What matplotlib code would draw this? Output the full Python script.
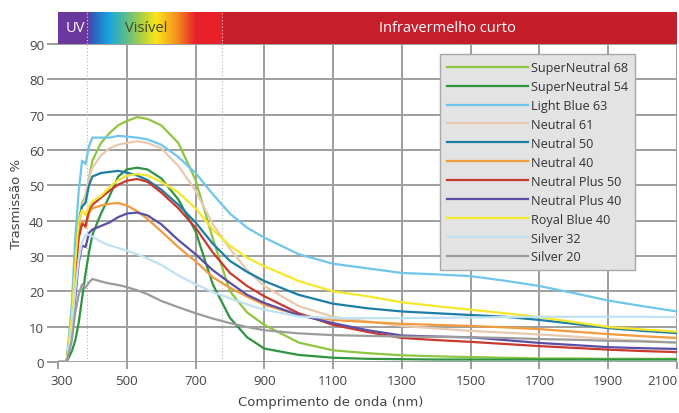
import numpy as np
import matplotlib.pyplot as plt
from matplotlib.colors import LinearSegmentedColormap
from matplotlib.transforms import ScaledTranslation

# comprimentos de onda (nm)
wl = [300, 325, 340, 350, 360, 370, 380, 390, 400,
      425, 450, 475, 500, 530, 560, 600, 650, 700,
      750, 800, 850, 900,
      1000, 1100, 1200, 1300, 1400, 1500, 1600, 1700, 1800, 1900, 2000, 2100]

sn68 = [0, 0, 10, 22, 38, 45, 47, 52, 57,
        62, 64.8, 67, 68.2, 69.3, 68.8, 67, 62, 51.5,
        35, 20, 14, 10.5,
        5.5, 3.3, 2.5, 1.9, 1.6, 1.4, 1.2, 1.0, 1.0, 0.9, 0.9, 0.9]
sn54 = [0, 0, 3, 6, 11, 18, 25, 31, 36,
        42, 47, 52.5, 54.5, 55, 54.5, 52, 46, 37,
        22, 12.5, 7, 3.8,
        2, 1.2, 0.9, 0.8, 0.7, 0.7, 0.7, 0.7, 0.7, 0.7, 0.7, 0.7]
lb63 = [0, 0, 16, 35, 48, 57, 56, 61, 63.5,
        63.5, 63.5, 64, 63.8, 63.5, 63, 61.5, 58, 53.5,
        47.5, 42, 38, 35.2,
        30.5, 27.8, 26.5, 25.2, 24.8, 24.3, 23, 21.5, 19.5, 17.4, 15.8, 14.3]
n61 = [0, 0, 10, 25, 38, 44, 47, 52, 55,
       58.5, 60.5, 61.5, 62, 62.5, 62, 60.5, 55.5, 48.5,
       39, 32, 26, 21.5,
       15.8, 12.8, 11.5, 10.2, 9.5, 8.8, 8.3, 7.8, 7.2, 6.5, 6.0, 5.5]
n50 = [0, 0, 12, 28, 40, 44, 45, 50, 52.5,
       53.5, 53.8, 54.1, 53.6, 52.8, 51.5, 48.8, 44.5, 39.5,
       33.5, 28.6, 25.5, 22.9,
       19, 16.5, 15.2, 14.3, 13.8, 13.3, 12.8, 11.9, 10.8, 9.6, 8.8, 8.2]
n40 = [0, 0, 11, 25, 36, 40, 38, 42, 43.5,
       44.3, 44.8, 45, 44.3, 42.7, 40.5, 37, 32.5, 28.5,
       24, 21, 18.5, 16.2,
       13.3, 11.9, 11.3, 10.8, 10.5, 10.2, 9.8, 9.3, 8.6, 7.9, 7.3, 6.8]
np50 = [0, 0, 11, 25, 35, 39, 38.5, 43, 44.5,
        46.5, 48.5, 50.2, 51.3, 51.8, 51, 48, 43.5, 38,
        31, 25.2, 21.5, 18.6,
        13.8, 10.5, 8.5, 6.8, 6.2, 5.7, 5.1, 4.5, 4.0, 3.5, 3.1, 2.8]
np40 = [0, 0, 8, 18, 28, 33, 32.5, 36.5, 37.5,
        38.5, 39.5, 41, 42, 42.3, 41.5, 39, 34.5, 30.5,
        26, 22.4, 19, 16.7,
        13.3, 11, 9, 7.5, 7.2, 7.0, 6.2, 5.4, 4.8, 4.2, 3.9, 3.7]
rb40 = [0, 0, 13, 28, 40, 43, 41.5, 44, 45.5,
        47, 49.5, 51.5, 52.7, 53.2, 52.8, 51, 48, 43.5,
        37.5, 32.9, 29.5, 27.1,
        22.9, 20, 18.6, 16.9, 15.8, 14.8, 13.8, 12.7, 11.3, 9.9, 9.2, 8.6]
s32 = [0, 0, 9, 20, 29, 34, 36, 36, 35.5,
       34, 33, 32.3, 31.5, 30.5, 29.3, 27.5, 24.5, 22,
       19.8, 18, 16.3, 14.8,
       12.9, 12.4, 12.4, 12.4, 12.5, 12.6, 12.7, 12.8, 12.8, 12.8, 12.8, 12.7]
s20 = [0, 0, 6, 14, 19, 22, 21, 22.5, 23.5,
       22.8, 22.2, 21.8, 21.2, 20.3, 19.2, 17.3, 15.5, 13.8,
       12.3, 11, 9.9, 9,
       8.1, 7.6, 7.4, 7.2, 7.1, 7.0, 6.8, 6.5, 6.3, 6.0, 5.8, 5.5]

nomes = ["SuperNeutral 68", "SuperNeutral 54", "Light Blue 63", "Neutral 61",
         "Neutral 50", "Neutral 40", "Neutral Plus 50", "Neutral Plus 40",
         "Royal Blue 40", "Silver 32", "Silver 20"]
series = [sn68, sn54, lb63, n61, n50, n40, np50, np40, rb40, s32, s20]
cores = ["#8dc63f", "#2f9440", "#6fc6ec", "#e8c9ae", "#1c7ea6", "#f39a3c",
         "#c8392e", "#5b4ea6", "#f6e72a", "#bfe1f3", "#9b9b9b"]

xticks = list(range(300, 2101, 200))
yticks = list(range(0, 91, 10))

grid_cor = "#9e9e9e"
texto_cor = "#444444"

fig = plt.figure(figsize=(6.79, 4.14), dpi=100)
ax = fig.add_axes([58 / 679, 1 - 363 / 414, 619 / 679, 318 / 414])
barra = fig.add_axes([58 / 679, 1 - 45 / 414, 619 / 679, 32 / 414])

# faixa do espectro
stops = [(300, "#6a389e"), (383, "#6a389e"), (398, "#2e5fbf"), (445, "#19a5df"),
         (495, "#5cbd8c"), (544, "#b6d23c"), (582, "#fae51b"), (640, "#f6951e"),
         (698, "#e8202a"), (777, "#e8202a"), (778, "#c81f2c"), (2100, "#c41e2b")]
pos = [(s[0] - 300) / 1800 for s in stops]
cmap = LinearSegmentedColormap.from_list("espectro", list(zip(pos, [s[1] for s in stops])))
grad = np.linspace(0, 1, 1200).reshape(1, -1)
barra.imshow(grad, aspect="auto", cmap=cmap, extent=[300, 2100, 0, 1])
barra.set_xlim(300, 2100)
barra.set_ylim(0, 1)
barra.set_xticks([])
barra.set_yticks([])
for s in barra.spines.values():
    s.set_visible(False)
for xv in [385, 778]:
    barra.axvline(xv, color="#dddddd", lw=0.8, ls=(0, (1, 2)))
barra.text(350, 0.5, "UV", color="white", fontsize=10.5, family="Open Sans",
           ha="center", va="center")
barra.text(556, 0.5, "Visível", color="#3d4a22", fontsize=10.5, family="Open Sans",
           ha="center", va="center")
barra.text(1431, 0.5, "Infravermelho curto", color="white", fontsize=10.5,
           family="Open Sans", ha="center", va="center")

# curvas
for nome, vals, cor in zip(nomes, series, cores):
    ax.plot(wl, vals, color=cor, lw=1.6, label=nome, zorder=3)

ax.set_xlim(300, 2100)
ax.set_ylim(0, 90)
ax.set_xticks(xticks)
ax.set_yticks(yticks)
ax.grid(True, color=grid_cor, lw=1.4)
ax.xaxis.get_gridlines()[0].set_visible(False)
ax.set_axisbelow(True)
for s in ax.spines.values():
    s.set_visible(False)
for xv in [385, 778]:
    ax.axvline(xv, color="#b0b0b0", lw=0.8, ls=(0, (1, 2)), zorder=1)

ax.tick_params(axis="y", length=8, width=1.4, color=grid_cor, labelcolor=texto_cor,
               labelsize=9.5, pad=2)
ax.tick_params(axis="x", length=5, width=1.4, color=grid_cor, labelcolor=texto_cor,
               labelsize=9.5, pad=4)
for lab in ax.get_xticklabels() + ax.get_yticklabels():
    lab.set_family("Open Sans")
xlabs = ax.get_xticklabels()
xlabs[0].set_transform(xlabs[0].get_transform()
                       + ScaledTranslation(4 / 100, 0, fig.dpi_scale_trans))
xlabs[-1].set_horizontalalignment("right")

ax.set_ylabel("Trasmissão %", fontsize=9.5, color=texto_cor, labelpad=4)
ax.yaxis.set_label_coords(-0.057, 0.5)
ax.set_xlabel("Comprimento de onda (nm)", fontsize=9.5, color=texto_cor)
ax.xaxis.set_label_coords(0.44, -0.105)

leg = ax.legend(loc="upper left", bbox_to_anchor=(0.607, 0.988), frameon=True,
                fancybox=False, facecolor="#e3e3e3", edgecolor="#a8a8a8",
                framealpha=1, handlelength=6.4, handletextpad=0.25,
                labelspacing=0.47, borderpad=0.55, prop={"family": "Open Sans", "size": 9.1})
leg.get_frame().set_linewidth(1.0)
for t in leg.get_texts():
    t.set_color("#333333")

fig.savefig("out.png", dpi=100)
